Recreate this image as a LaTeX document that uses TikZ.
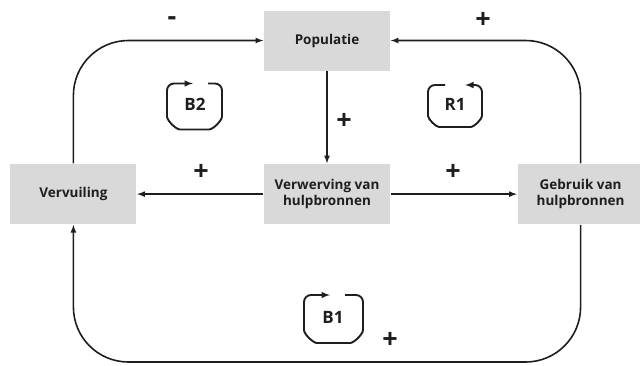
\documentclass[tikz,border=0pt]{standalone}
\usepackage{fontspec}
\setmainfont{Open Sans}
\usetikzlibrary{positioning, arrows}
\definecolor{boxgray}{RGB}{217,217,217}
\definecolor{ink}{RGB}{30,30,30}
\tikzset{
  % factor/.style={
  %   draw, rectangle
  % },
  -latex,
  factor/.style={fill=boxgray, minimum width=126pt, minimum height=60pt,
    inner sep=2pt, align=center, font=\bfseries\fontsize{13.5}{16.5}\selectfont},
  sign/.style={inner sep=0pt, font=\bfseries\fontsize{27}{27}\selectfont},
  looplabel/.style={inner sep=0pt, font=\bfseries\fontsize{17}{17}\selectfont},
  loopsign/.style={rounded corners=7pt, line width=1.9pt}
}

\begin{document}
\begin{tikzpicture}[x=1pt, y=-1pt, line width=1.6pt, color=ink]
    \useasboundingbox (0,0) rectangle (640,365);

    \node[factor] (populatie) at (327,40.5) {Populatie};
    \node[factor, below = 92pt of populatie] (verwerving) {Verwerving van\\hulpbronnen};
    \node[factor, left = 126pt of verwerving] (vervuiling) {Vervuiling};
    \node[factor, right = 126pt of verwerving] (gebruik) {Gebruik van\\hulpbronnen};
    \coordinate (bottom) at (327,362);

    \draw (populatie) -- (verwerving);
    \draw (verwerving) -- (vervuiling);
    \draw (verwerving) -- (gebruik);
    \draw[rounded corners=55pt] (vervuiling.north) |- (populatie.west);
    \draw[rounded corners=55pt] (gebruik.north) |- (populatie.east);
    \draw[rounded corners=55pt] (gebruik.south) |- (bottom) -| (vervuiling.south);

    \node[sign] (minus) at (172,21) {-};
    \node[sign] (plustop) at (483,20) {+};
    \node[sign] (plusdown) at (344,121) {+};
    \node[sign] (plusleft) at (201,172) {+};
    \node[sign] (plusright) at (453,172) {+};
    \node[sign] (plusbottom) at (390,340) {+};

    % loop signs
    \node[looplabel] (b2) at (195,104) {B2};
    \draw[loopsign] (208,83.5) -- (222,83.5) -- (222,109.5)
          .. controls (222,120.5) and (213,129.5) .. (202,129.5) -- (187,129.5)
          .. controls (176,129.5) and (167,120.5) .. (167,109.5) -- (167,83.5) -- (193,83.5);
    \node[looplabel] (r1) at (455,104) {R1};
    \draw[loopsign] (445,85) -- (428,85) -- (428,109)
          .. controls (428,119) and (436,127) .. (446,127) -- (464,127)
          .. controls (474,127) and (482,119) .. (482,109) -- (482,85) -- (465,85);
    \node[looplabel] (b1) at (333,317) {B1};
    \draw[loopsign] (345,295) -- (363,295) -- (363,323)
          .. controls (363,334) and (354,343) .. (343,343) -- (324,343)
          .. controls (313,343) and (304,334) .. (304,323) -- (304,295) -- (330,295);
\end{tikzpicture}
\end{document}
